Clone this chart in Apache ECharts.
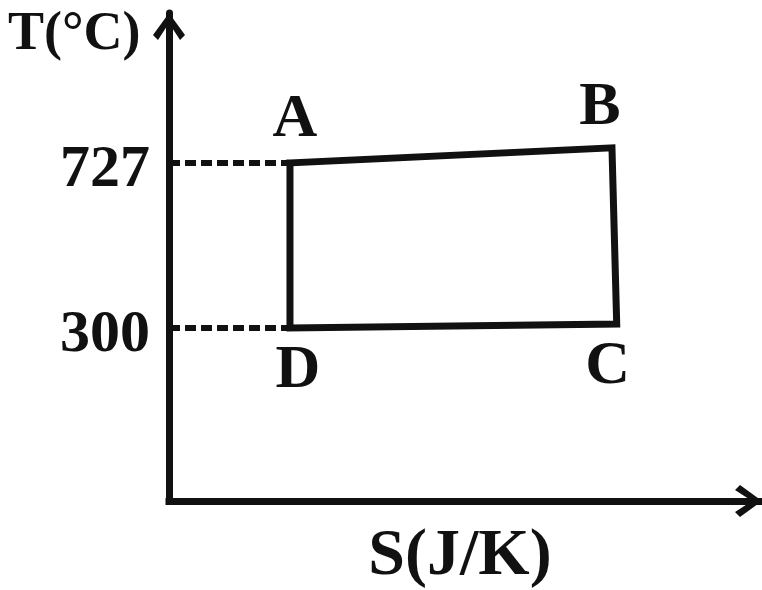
<!DOCTYPE html>
<html>
<head>
<meta charset="utf-8">
<script src="https://cdn.jsdelivr.net/npm/echarts@6/dist/echarts.min.js"></script>
<style>html,body{margin:0;padding:0;background:#fff}#c{width:762px;height:590px}</style>
</head>
<body>
<div id="c"></div>
<script>
// ---- data ----
const pointNames = ['A', 'B', 'C', 'D'];
const entropyS = [20.4, 74.7, 75.5, 20.4];      // S (arbitrary units)
const temperatureT = [727, 766, 310, 300];      // T (°C) as drawn
const tickLabels = [300, 727];
const rangeS = [0, 100];
const rangeT = [-148, 1115];
const xAxisTitle = 'S(J/K)';
const yAxisTitle = 'T(°C)';

// ---- styling ----
const INK = '#111';
const FONT = 'Liberation Serif';
const labelOffsets = { A: [5, -43], B: [-12, -40], C: [-9, 43], D: [8, 43] };

const corners = pointNames.map((n, i) => [entropyS[i], temperatureT[i]]);
const cycle = corners.concat([corners[0]]);
const iA = pointNames.indexOf('A'), iD = pointNames.indexOf('D');
const dashA = [[rangeS[0], temperatureT[iA]], [entropyS[iA], temperatureT[iA]]];
const dashD = [[rangeS[0], temperatureT[iD]], [entropyS[iD], temperatureT[iD]]];

const chevronUp = 'path://M16 0 L32 22 L27 27 L16 10 L5 27 L0 22 Z';

const chart = echarts.init(document.getElementById('c'), null, { renderer: 'canvas' });
chart.setOption({
  animation: false,
  backgroundColor: '#fff',
  title: {
    text: yAxisTitle, left: 8, top: 8, padding: 0,
    textStyle: { fontFamily: FONT, fontWeight: 'bold', fontSize: 54, color: INK }
  },
  grid: { left: 169, right: 0, top: 13, bottom: 89, outerBoundsMode: 'none', containLabel: false },
  xAxis: {
    type: 'value', min: rangeS[0], max: rangeS[1],
    name: xAxisTitle, nameLocation: 'middle', nameGap: 23,
    nameTextStyle: { fontFamily: FONT, fontWeight: 'bold', fontSize: 66, color: INK, padding: [0, 11, 0, 0] },
    axisLine: {
      onZero: false, symbol: ['none', chevronUp], symbolSize: [35, 27], symbolOffset: [0, -13.5],
      lineStyle: { color: INK, width: 7, cap: 'square' }
    },
    axisTick: { show: false }, axisLabel: { show: false }, splitLine: { show: false }
  },
  yAxis: {
    type: 'value', min: rangeT[0], max: rangeT[1],
    axisLine: {
      onZero: false, symbol: ['none', chevronUp], symbolSize: [32, 27], symbolOffset: [0, -13.5],
      lineStyle: { color: INK, width: 7 }
    },
    axisTick: { show: false },
    axisLabel: {
      customValues: tickLabels, margin: 19, verticalAlign: 'top', lineHeight: 16,
      fontFamily: FONT, fontWeight: 'bold', fontSize: 60, color: INK
    },
    splitLine: { show: false }
  },
  series: [
    {
      type: 'line', data: dashA, symbol: 'none', silent: true,
      lineStyle: { color: INK, width: 6, type: [11, 5] }
    },
    {
      type: 'line', data: dashD, symbol: 'none', silent: true,
      lineStyle: { color: INK, width: 6, type: [11, 5] }
    },
    {
      type: 'line', data: cycle, symbol: 'none', silent: true,
      lineStyle: { color: INK, width: 7, join: 'miter', cap: 'square' }
    },
    {
      type: 'scatter', symbolSize: 0, silent: true,
      itemStyle: { color: INK, opacity: 1 },
      data: pointNames.map((n, i) => ({
        name: n, value: corners[i],
        label: { position: labelOffsets[n] }
      })),
      label: {
        show: true, formatter: '{b}', align: 'center', verticalAlign: 'middle', opacity: 1,
        fontFamily: FONT, fontWeight: 'bold', fontSize: 62, color: INK
      }
    }
  ]
});
</script>
</body>
</html>
